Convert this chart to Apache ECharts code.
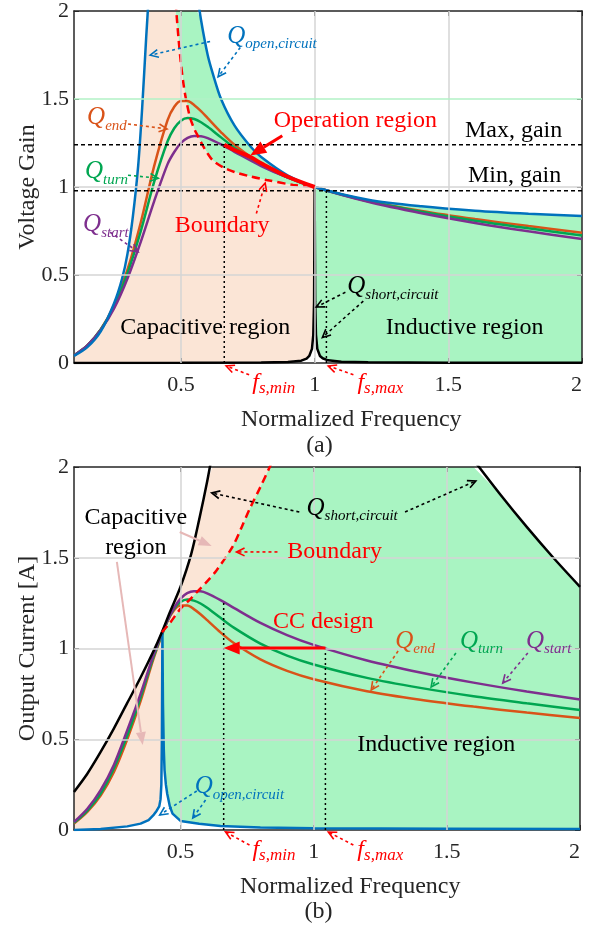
<!DOCTYPE html>
<html>
<head>
<meta charset="utf-8">
<script src="https://cdn.jsdelivr.net/npm/echarts@6/dist/echarts.min.js"></script>
<style>
html,body{margin:0;padding:0;background:#fff}
#chart{width:589px;height:929px}
</style>
</head>
<body>
<div id="chart"></div>
<script>
/* ---------------- data ---------------- */
var xTicks = [0.5, 1, 1.5, 2];

// shared frequency samples of the three load curves
var xQ = [0.1,0.15,0.2,0.25,0.3,0.35,0.4,0.45,0.475,0.5,0.525,0.55,0.575,0.6,0.65,0.7,0.8,0.9,1.0,1.2,1.4,1.6,1.8,2.0];

// (a) voltage gain
var gainEnd   = [0.043,0.10,0.19,0.33,0.53,0.80,1.12,1.38,1.456,1.489,1.488,1.465,1.431,1.391,1.311,1.240,1.131,1.055,1.0,0.921,0.864,0.818,0.778,0.740];
var gainTurn  = [0.043,0.10,0.19,0.32,0.51,0.75,1.03,1.26,1.334,1.377,1.392,1.386,1.368,1.342,1.282,1.223,1.126,1.054,1.0,0.919,0.859,0.808,0.765,0.725];
var gainStart = [0.043,0.10,0.187,0.31,0.48,0.69,0.92,1.13,1.199,1.250,1.279,1.290,1.289,1.278,1.242,1.200,1.119,1.053,1.0,0.916,0.851,0.796,0.748,0.705];

var openLeftX  = [0.1,0.15,0.2,0.25,0.28,0.3,0.32,0.34,0.355,0.37,0.38,0.39];
var openLeftY  = [0.04,0.09,0.18,0.34,0.48,0.62,0.83,1.12,1.45,1.85,2.1,2.4];
var openRightX = [0.55,0.56,0.575,0.6,0.62,0.65,0.7,0.76,0.8,0.9,1.0,1.2,1.4,1.6,1.8,2.0];
var openRightY = [2.24,2.11,1.95,1.75,1.64,1.50,1.35,1.23,1.17,1.065,1.0,0.928,0.89,0.865,0.848,0.835];

var shortX = [0.1,0.5,0.8,0.9,0.95,0.97,0.98,0.99,0.995,0.998,1.0,1.002,1.005,1.01,1.02,1.03,1.05,1.1,1.2,1.5,2.0];
var shortY = [0,0.001,0.003,0.006,0.013,0.025,0.04,0.08,0.16,0.35,1.0,0.35,0.16,0.08,0.04,0.027,0.015,0.007,0.004,0.002,0.001];

var bndGainX = [0.48,0.49,0.5,0.51,0.52,0.535,0.55,0.565,0.58,0.6,0.62,0.66,0.7,0.76,0.82,0.92,1.0];
var bndGainY = [2.05,1.86,1.7,1.58,1.49,1.39,1.33,1.285,1.24,1.19,1.15,1.11,1.085,1.06,1.04,1.012,1.0];

var opRegionX = [0.662,0.7,0.76,0.8,0.9,1.0];
var opRegionY = [1.24,1.21,1.17,1.135,1.058,1.0];

var gainMax = 1.24, gainMin = 0.978;
var fsMin = 0.662, fsMax = 1.044;

// (b) output current
var curEnd   = [0.036,0.10,0.19,0.32,0.50,0.71,0.95,1.147,1.210,1.237,1.237,1.217,1.189,1.156,1.089,1.030,0.940,0.877,0.831,0.765,0.718,0.680,0.647,0.617];
var curTurn  = [0.039,0.107,0.20,0.34,0.52,0.73,0.96,1.149,1.217,1.256,1.270,1.264,1.248,1.224,1.169,1.115,1.027,0.961,0.912,0.838,0.783,0.737,0.698,0.661];
var curStart = [0.044,0.117,0.22,0.36,0.55,0.75,0.97,1.153,1.223,1.275,1.305,1.316,1.315,1.304,1.267,1.224,1.141,1.074,1.02,0.934,0.868,0.812,0.763,0.719];

var shortCurLX = [0.1,0.15,0.2,0.25,0.3,0.35,0.4,0.43,0.46,0.5,0.54,0.57,0.6,0.62];
var shortCurLY = [0.21,0.31,0.43,0.56,0.70,0.84,0.99,1.09,1.2,1.34,1.52,1.71,1.92,2.08];
var shortCurRX = [1.6,1.7,1.8,1.9,2.0];
var shortCurRY = [2.04,1.85,1.67,1.5,1.34];

var openCurX = [0.1,0.2,0.3,0.35,0.38,0.4,0.41,0.42,0.425,0.428,0.43,0.432,0.434,0.437,0.44,0.445,0.45,0.46,0.47,0.5,0.57,0.65,0.8,1.0,1.5,2.0];
var openCurY = [0.0,0.006,0.02,0.035,0.055,0.085,0.105,0.13,0.17,0.25,0.5,1.09,0.7,0.45,0.33,0.25,0.2,0.13,0.09,0.05,0.035,0.022,0.014,0.01,0.007,0.005];

var bndCurX = [0.43,0.46,0.5,0.535,0.565,0.6,0.635,0.695,0.73,0.76,0.8,0.835,0.85];
var bndCurY = [1.09,1.14,1.22,1.27,1.316,1.37,1.43,1.56,1.67,1.77,1.89,2.0,2.05];

var ccCurrent = 1.003;

/* ---------------- styling ---------------- */
var SERIF = '"Liberation Serif","Times New Roman",serif';
var INK = '#262626';
var COL = {blue:'#0072BD', orange:'#D95319', green:'#00A651', purple:'#7E2F8E', red:'#FF0000',
           peach:'#FBE5D6', mint:'#A9F4C2', pale:'#E6B8B7', grid:'#d4d4d4', gridG:'#b2f2c6'};
var YMAX = 2;

function pairs(xs, ys) { return xs.map(function (x, i) { return [x, ys[i]]; }); }
function capped(pts) { return pts.map(function (p) { return [p[0], Math.min(p[1], YMAX)]; }); }
function rev(pts) { return pts.slice().reverse(); }
function interp(xs, ys, x) {
  for (var i = 1; i < xs.length; i++) {
    if (x <= xs[i]) { var t = (x - xs[i-1]) / (xs[i] - xs[i-1]); return ys[i-1] + t * (ys[i] - ys[i-1]); }
  }
  return ys[ys.length - 1];
}

// each grid owns two x and two y axes (main + mirror), so the main one is at index 2*g
function line(g, data, color, width, dash, smooth, z) {
  return {type:'line', xAxisIndex:2*g, yAxisIndex:2*g, data:data, symbol:'none', smooth:smooth || false,
          lineStyle:{color:color, width:width, type:dash || 'solid'}, z:z || 3, silent:true, clip:true};
}
function area(g, pts, color, z) {
  return {type:'custom', xAxisIndex:2*g, yAxisIndex:2*g, data:[[0,0]], z:z, silent:true, clip:true,
    renderItem:function (params, api) {
      return {type:'polygon', shape:{points:pts.map(function (p) { return api.coord(p); })}, style:{fill:color}};
    }};
}
function gridLines(g, yGreen) {
  var items = [{xAxis:0.5},{xAxis:1},{xAxis:1.5},{yAxis:0.5},{yAxis:1},
               {yAxis:1.5, lineStyle:{color: yGreen ? COL.gridG : COL.grid}}];
  return {type:'line', xAxisIndex:2*g, yAxisIndex:2*g, data:[], z:-1, silent:true,
    markLine:{silent:true, symbol:['none','none'], label:{show:false}, animation:false,
      lineStyle:{color:COL.grid, width:1.5, type:'solid'}, data:items}};
}

function xAxis(g, main) {
  return {type:'value', gridIndex:g, min:0.1, max:2, position: main ? 'bottom' : 'top',
    axisLine:{show:true, onZero:false, lineStyle:{color:INK, width:1.5}},
    axisTick:{show:true, inside:true, length:5, customValues:xTicks, lineStyle:{color:INK, width:1}},
    axisLabel:{show:main, customValues:xTicks, margin:11, color:INK, fontFamily:SERIF, fontSize:22, alignMaxLabel:'right'},
    splitLine:{show:false}};
}
function yAxis(g, main, name) {
  return {type:'value', gridIndex:g, min:0, max:2, interval:0.5, position: main ? 'left' : 'right',
    name: main ? name : '', nameLocation:'middle', nameGap:34, nameMoveOverlap:false,
    nameTextStyle:{fontFamily:SERIF, fontSize:24, color:INK},
    axisLine:{show:true, onZero:false, lineStyle:{color:INK, width:1.5}},
    axisTick:{show:true, inside:true, length:5, lineStyle:{color:INK, width:1}},
    axisLabel:{show:main, margin:5, color:INK, fontFamily:SERIF, fontSize:22},
    splitLine:{show:false}};
}

/* ---------------- regions ---------------- */
var shortPts = pairs(shortX, shortY);
var shortLeft = shortPts.filter(function (p) { return p[0] <= 1; });
var shortRight = shortPts.filter(function (p) { return p[0] >= 1; });
var bndGain = pairs(bndGainX, bndGainY);
var peachTop = capped(pairs(openLeftX, openLeftY)).concat(capped(bndGain), rev(shortLeft));
var mintTop = capped(pairs(openRightX, openRightY)).concat(rev(shortRight), rev(capped(bndGain)));

var openCur = pairs(openCurX, openCurY);
var pk = openCurY.indexOf(Math.max.apply(null, openCurY));
var bndCur = capped(pairs(bndCurX, bndCurY));
var peachBot = capped(pairs(shortCurLX, shortCurLY)).concat(rev(bndCur), rev(openCur.slice(0, pk + 1)));
var mintBot = openCur.slice(pk).concat(rev(capped(pairs(shortCurRX, shortCurRY))), rev(bndCur));

var fsMinTopB = interp(xQ, curStart, fsMin);

var chart = echarts.init(document.getElementById('chart'));
chart.setOption({
  animation:false,
  grid:[{left:74, top:5, width:508, height:358, show:false},
        {left:74, top:467, width:506, height:363, show:false}],
  xAxis:[xAxis(0, true), xAxis(0, false), xAxis(1, true), xAxis(1, false)],
  yAxis:[yAxis(0, true, 'Voltage Gain'), yAxis(0, false), yAxis(1, true, 'Output Current [A]'), yAxis(1, false)],
  series:[
    area(0, peachTop, COL.peach, -3),
    area(0, mintTop, COL.mint, -3),
    gridLines(0, true),
    line(0, pairs(xQ, gainEnd), COL.orange, 2.5, 'solid', 0.3),
    line(0, pairs(xQ, gainTurn), COL.green, 2.5, 'solid', 0.3),
    line(0, pairs(xQ, gainStart), COL.purple, 2.5, 'solid', 0.3),
    line(0, pairs(openLeftX, openLeftY), COL.blue, 2.5, 'solid', 0.3),
    line(0, pairs(openRightX, openRightY), COL.blue, 2.5, 'solid', 0.3),
    line(0, shortPts, '#000', 2.5),
    line(0, bndGain, COL.red, 2.5, [8, 5], 0.3, 4),
    line(0, pairs(opRegionX, opRegionY), COL.red, 4, 'solid', 0.3, 5),
    line(0, [[0.1, gainMax], [2, gainMax]], '#000', 1.5, [4, 3], false, 4),
    line(0, [[0.1, gainMin], [2, gainMin]], '#000', 1.5, [4, 3], false, 4),
    line(0, [[fsMin, 0], [fsMin, gainMax]], '#000', 1.5, [2, 3], false, 4),
    line(0, [[fsMax, 0], [fsMax, gainMin]], '#000', 1.5, [2, 3], false, 4),

    area(1, peachBot, COL.peach, -3),
    area(1, mintBot, COL.mint, -3),
    gridLines(1, false),
    line(1, pairs(xQ, curEnd), COL.orange, 2.5, 'solid', 0.3),
    line(1, pairs(xQ, curTurn), COL.green, 2.5, 'solid', 0.3),
    line(1, pairs(xQ, curStart), COL.purple, 2.5, 'solid', 0.3),
    line(1, openCur, COL.blue, 2.5),
    line(1, pairs(shortCurLX, shortCurLY), '#000', 2.5, 'solid', 0.3),
    line(1, pairs(shortCurRX, shortCurRY), '#000', 2.5, 'solid', 0.3),
    line(1, pairs(bndCurX, bndCurY), COL.red, 2.5, [8, 5], 0.3, 4),
    line(1, [[fsMin, 0], [fsMin, fsMinTopB]], '#000', 1.5, [2, 3], false, 4),
    line(1, [[fsMax, 0], [fsMax, ccCurrent]], '#000', 1.5, [2, 3], false, 4)
  ]
});

/* ---------------- annotations (placed in data coordinates) ---------------- */
function qLabel(sub, color, big, small) {
  return {text:'{q|Q}{s|' + sub + '}', rich:{
    q:{fontFamily:SERIF, fontStyle:'italic', fontSize:big || 25, fill:color, color:color, verticalAlign:'top', lineHeight:28},
    s:{fontFamily:SERIF, fontStyle:'italic', fontSize:small || 15, fill:color, color:color, verticalAlign:'bottom', lineHeight:14}}};
}
function fLabel(sub) {
  return {text:'{q|f}{s|' + sub + '}', rich:{
    q:{fontFamily:SERIF, fontStyle:'italic', fontSize:24, fill:COL.red, verticalAlign:'top', lineHeight:26},
    s:{fontFamily:SERIF, fontStyle:'italic', fontSize:17, fill:COL.red, verticalAlign:'bottom', lineHeight:16}}};
}
var texts = [
  {g:0, at:[0.673,1.849], label:qLabel('open,circuit', COL.blue), align:'left'},
  {g:0, at:[0.149,1.385], label:qLabel('end', COL.orange), align:'left'},
  {g:0, at:[0.141,1.078], label:qLabel('turn', COL.green), align:'left'},
  {g:0, at:[0.134,0.777], label:qLabel('start', COL.purple), align:'left'},
  {g:0, at:[1.152,1.374], text:'Operation region', color:COL.red},
  {g:0, at:[1.744,1.318], text:'Max, gain', color:'#000'},
  {g:0, at:[1.748,1.067], text:'Min, gain', color:'#000'},
  {g:0, at:[0.654,0.782], text:'Boundary', color:COL.red},
  {g:0, at:[0.591,0.201], text:'Capacitive region', color:'#000'},
  {g:0, at:[1.561,0.201], text:'Inductive region', color:'#000'},
  {g:0, at:[1.122,0.425], label:qLabel('short,circuit', '#000'), align:'left'},
  {g:0, at:[0.767,-0.117], label:fLabel('s,min'), align:'left'},
  {g:0, at:[1.160,-0.117], label:fLabel('s,max'), align:'left'},
  {g:0, at:[1.137,-0.324], text:'Normalized Frequency', color:INK},
  {g:0, at:[1.018,-0.469], text:'(a)', color:INK},

  {g:1, at:[0.332,1.636], text:'Capacitive\nregion', color:'#000'},
  {g:1, at:[0.973,1.763], label:qLabel('short,circuit', '#000'), align:'left'},
  {g:1, at:[0.901,1.532], text:'Boundary', color:COL.red, align:'left'},
  {g:1, at:[1.036,1.146], text:'CC design', color:COL.red},
  {g:1, at:[1.306,1.030], label:qLabel('end', COL.orange), align:'left'},
  {g:1, at:[1.549,1.030], label:qLabel('turn', COL.green), align:'left'},
  {g:1, at:[1.797,1.030], label:qLabel('start', COL.purple), align:'left'},
  {g:1, at:[0.553,0.231], label:qLabel('open,circuit', COL.blue), align:'left'},
  {g:1, at:[1.46,0.468], text:'Inductive region', color:'#000'},
  {g:1, at:[0.770,-0.116], label:fLabel('s,min'), align:'left'},
  {g:1, at:[1.164,-0.116], label:fLabel('s,max'), align:'left'},
  {g:1, at:[1.137,-0.314], text:'Normalized Frequency', color:INK},
  {g:1, at:[1.018,-0.452], text:'(b)', color:INK}
];
var arrows = [
  {g:0, from:[0.609,1.827], to:[0.385,1.749], color:COL.blue},
  {g:0, from:[0.722,1.793], to:[0.639,1.626], color:COL.blue},
  {g:0, from:[0.302,1.358], to:[0.448,1.330], color:COL.orange},
  {g:0, from:[0.302,1.067], to:[0.415,1.050], color:COL.green},
  {g:0, from:[0.235,0.743], to:[0.340,0.631], color:COL.purple},
  {g:0, from:[0.879,1.291], to:[0.759,1.179], color:COL.red, solid:true},
  {g:0, from:[0.782,0.849], to:[0.815,1.022], color:COL.red},
  {g:0, from:[1.115,0.402], to:[1.006,0.318], color:'#000'},
  {g:0, from:[1.182,0.352], to:[1.029,0.145], color:'#000'},
  {g:0, from:[0.755,-0.067], to:[0.669,-0.017], color:COL.red},
  {g:0, from:[1.145,-0.067], to:[1.051,-0.017], color:COL.red},

  {g:1, from:[0.497,1.642], to:[0.617,1.565], color:COL.pale, solid:true, thin:true},
  {g:1, from:[0.261,1.477], to:[0.358,0.468], color:COL.pale, solid:true, thin:true},
  {g:1, from:[0.946,1.752], to:[0.617,1.857], color:'#000'},
  {g:1, from:[1.343,1.752], to:[1.609,1.923], color:'#000'},
  {g:1, from:[0.864,1.532], to:[0.710,1.532], color:COL.red},
  {g:1, from:[fsMax, ccCurrent], to:[fsMin, ccCurrent], color:COL.red, solid:true},
  {g:1, from:[1.317,0.986], to:[1.216,0.771], color:COL.orange},
  {g:1, from:[1.534,0.975], to:[1.441,0.788], color:COL.green},
  {g:1, from:[1.804,0.975], to:[1.710,0.810], color:COL.purple},
  {g:1, from:[0.561,0.215], to:[0.422,0.083], color:COL.blue},
  {g:1, from:[0.594,0.165], to:[0.546,0.066], color:COL.blue},
  {g:1, from:[0.759,-0.083], to:[0.669,-0.011], color:COL.red},
  {g:1, from:[1.149,-0.083], to:[1.055,-0.011], color:COL.red}
];

function px(g, p) { return chart.convertToPixel({gridIndex:g}, p); }
var gfx = [];
texts.forEach(function (t) {
  var p = px(t.g, t.at);
  var style = t.label ? {text:t.label.text, rich:t.label.rich} :
    {text:t.text, fill:t.color, font:'24px ' + SERIF, lineHeight:30};
  style.align = t.align || 'center';
  style.verticalAlign = 'middle';
  gfx.push({type:'text', x:p[0], y:p[1], style:style, z:100, silent:true});
});
arrows.forEach(function (a) {
  var p0 = px(a.g, a.from), p1 = px(a.g, a.to);
  var dx = p1[0] - p0[0], dy = p1[1] - p0[1], len = Math.sqrt(dx * dx + dy * dy);
  var ux = dx / len, uy = dy / len, nx = -uy, ny = ux;
  if (a.solid) {
    var L = a.thin ? 13 : 16, W = a.thin ? 5 : 6.5;
    var bx = p1[0] - ux * L, by = p1[1] - uy * L;
    gfx.push({type:'line', shape:{x1:p0[0], y1:p0[1], x2:bx, y2:by},
      style:{stroke:a.color, lineWidth:a.thin ? 2 : 3}, z:100, silent:true});
    gfx.push({type:'polygon', shape:{points:[p1, [bx + nx * W, by + ny * W], [bx - nx * W, by - ny * W]]},
      style:{fill:a.color}, z:100, silent:true});
  } else {
    var H = 9, c = Math.cos(0.45), s = Math.sin(0.45);
    var h1 = [p1[0] - H * (ux * c - uy * s), p1[1] - H * (uy * c + ux * s)];
    var h2 = [p1[0] - H * (ux * c + uy * s), p1[1] - H * (uy * c - ux * s)];
    gfx.push({type:'line', shape:{x1:p0[0], y1:p0[1], x2:p1[0], y2:p1[1]},
      style:{stroke:a.color, lineWidth:1.6, lineDash:[3, 3]}, z:100, silent:true});
    gfx.push({type:'polyline', shape:{points:[h1, p1, h2]},
      style:{stroke:a.color, lineWidth:1.6, fill:null}, z:100, silent:true});
  }
});
chart.setOption({graphic:gfx});
</script>
</body>
</html>
